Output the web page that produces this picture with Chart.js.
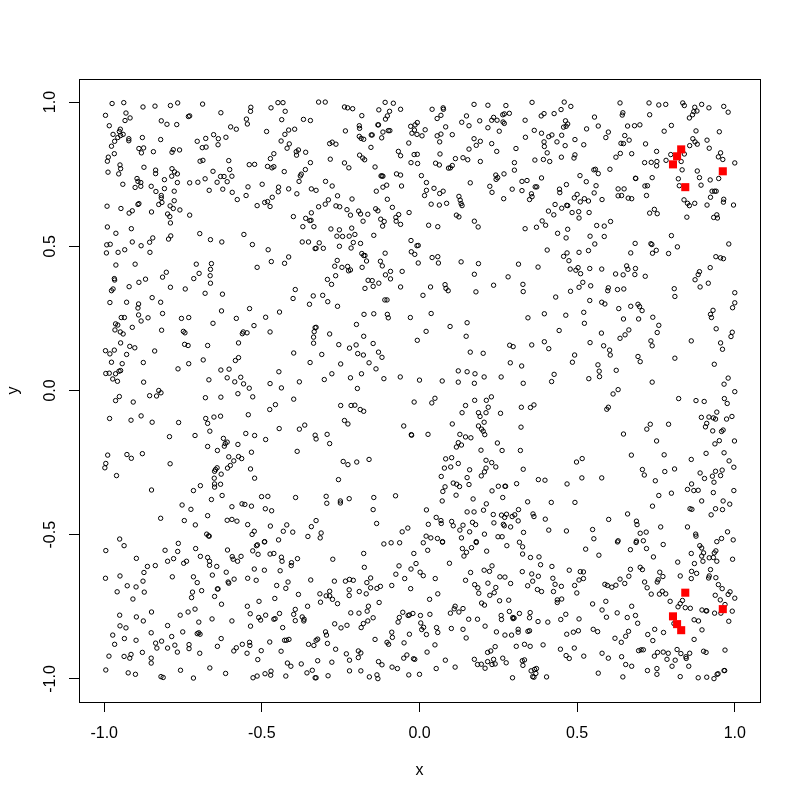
<!DOCTYPE html>
<html>
<head>
<meta charset="utf-8">
<title>Scatter</title>
<script src="https://cdn.jsdelivr.net/npm/chart.js@4"></script>
<style>
  html, body { margin: 0; padding: 0; background: #fff; }
  canvas { display: block; }
</style>
</head>
<body>
<canvas id="chart" width="800" height="800"></canvas>
<script>
const xTicks = [-1, -0.5, 0, 0.5, 1];
const yTicks = [-1, -0.5, 0, 0.5, 1];
const xLabel = 'x';
const yLabel = 'y';

// red squares, [x, y]
const highlighted = [[.830,.836],[.817,.812],[.804,.784],[.962,.760],[.843,.705],
  [.843,-.701],[.962,-.758],[.804,-.783],[.817,-.810],[.830,-.831]];

// open circles, [x, y], one patch at a time
const topLeft = [[-.975,.995],[-.938,.998],[-.877,.983],[-.839,.986],[-.790,.988],[-.767,.997],[-.688,.993],[-.630,.963],[-.535,.982],[-.536,.968],[-.471,.980],[-.449,.998],[-.433,.998],[-.426,.968],[-.996,.954],[-.931,.962],[-.918,.945],[-.934,.936],[-.733,.950],[-.729,.952],[-.819,.935],[-.801,.923],[-.770,.922],[-.549,.941],[-.546,.924],[-.437,.939],[-.368,.940],[-.346,.936],[-.984,.918],
[-.949,.906],[-.952,.898],[-.972,.888],[-.940,.888],[-.948,.884],[-.957,.877],[-.967,.864],[-.922,.873],[-.922,.866],[-.879,.877],[-.821,.870],[-.705,.864],[-.678,.874],[-.653,.887],[-.638,.873],[-.614,.878],[-.599,.914],[-.581,.906],[-.485,.898],[-.427,.888],[-.415,.903],[-.396,.906],[-.439,.865],[-.977,.847],[-.890,.839],[-.875,.841],[-.882,.824],[-.844,.828],[-.781,.835],[-.785,.826],[-.761,.834],[-.689,.842],[-.677,.844],[-.639,.852],[-.413,.855],[-.420,.840],[-.384,.834],[-.391,.828],[-.361,.826],[-.390,.816],[-.968,.821],[-.987,.809],[-.990,.795],[-.696,.795],[-.687,.798],[-.605,.797],[-.462,.821],[-.473,.804],[-.950,.782],[-.948,.769],[-.874,.774],[-.837,.764],[-.837,.752],[-.785,.769],[-.777,.758],[-.768,.751],[-.786,.743],[-.988,.757],[-.954,.751],[-.655,.760],[-.602,.766],[-.595,.743],[-.631,.742],[-.620,.742],[-.540,.783],[-.523,.784],[-.482,.777],[-.468,.772],[-.462,.776],[-.429,.759],[-.362,.766],[-.346,.790],[-.375,.750],[-.378,.744],[-.941,.715],[-.896,.735],[-.893,.725],[-.884,.721],[-.902,.704],[-.884,.708],[-.809,.731],[-.851,.708],[-.809,.700],[-.768,.721],[-.729,.720],[-.703,.722],[-.680,.734],[-.642,.722],[-.610,.724],[-.624,.698],[-.667,.694],[-.778,.691],[-.836,.690],[-.819,.676],[-.819,.668],[-.817,.652],[-.827,.645],[-.778,.658],[-.594,.687],[-.544,.706],[-.499,.715],[-.550,.676],[-.578,.662],[-.447,.705],[-.448,.689],[-.415,.699],[-.382,.725],[-.389,.682],[-.343,.699],[-.467,.670],[-.482,.655],[-.491,.652],[-.474,.638],[-.515,.641],[-.893,.645],[-.890,.648],[-.991,.639],[-.947,.631],[-.921,.615],[-.911,.623],[-.850,.619],[-.791,.640],[-.781,.631],[-.760,.626],[-.799,.612],[-.792,.603],[-.729,.608],[-.790,.581],[-.400,.603],[-.343,.616],[-.361,.597],[-.348,.589],[-.344,.590],[-.370,.568],[-.335,.568],[-.990,.567],[-.914,.561],[-.963,.545],[-.846,.529],[-.789,.536],[-.796,.525],[-.697,.544],[-.663,.523],[-.557,.541]];

const topMiddle = [[-.320,1.000],[-.299,1.000],[-.238,.983],[-.228,.980],[-.212,.977],[-.109,.999],[-.083,.996],[-.129,.973],[-.095,.968],[-.060,.975],[-.183,.953],[-.102,.952],[-.108,.941],[.040,.975],[.075,.980],[.076,.975],[.068,.954],[.056,.943],[.173,.992],[.217,.989],[.274,.988],[.357,.999],[.149,.952],[.134,.930],[.157,.918],[.191,.935],[.235,.947],[.229,.937],[.246,.937],[.264,.956],[.269,.959],[.285,.961],[.265,.931],[.269,.926],[.217,.911],[.335,.937],[.253,.899],[.364,.902],[.336,.878],[-.191,.918],[-.190,.909],[-.132,.921],[-.130,.921],[-.235,.900],[-.116,.896],[-.099,.901],[-.094,.901],[-.028,.916],[-.016,.903],[-.014,.921],[-.007,.929],[.018,.904],[-.024,.892],[-.008,.888],[.008,.883],[.083,.914],[.056,.883],[.068,.889],[.104,.887],[-.191,.881],[-.185,.874],[-.177,.871],[-.153,.886],[-.150,.886],[-.120,.876],[-.034,.858],[.064,.862],[.173,.873],[.193,.864],[.180,.850],[.229,.856],[.157,.837],[.245,.829],[.306,.839],[-.285,.856],[-.277,.861],[-.265,.854],[-.154,.843],[-.067,.829],[-.060,.814],[-.190,.816],[-.180,.806],[-.174,.800],[-.017,.818],[-.007,.819],[.065,.820],[.114,.804],[.138,.807],[.153,.800],[-.283,.802],[-.238,.789],[-.224,.772],[-.141,.775],[-.027,.790],[-.006,.787],[.051,.788],[.063,.782],[.092,.771],[.098,.772],[.104,.780],[.193,.794],[.301,.790],[.366,.799],[.301,.764],[-.122,.744],[-.119,.744],[-.116,.743],[-.073,.751],[-.060,.747],[.006,.745],[.242,.747],[.268,.751],[.248,.738],[.243,.732],[-.298,.725],[-.277,.709],[.022,.721],[.161,.720],[.223,.708],[.325,.725],[.341,.728],[-.328,.694],[-.137,.691],[-.116,.705],[-.104,.712],[-.057,.709],[.022,.694],[.046,.701],[.075,.691],[.064,.683],[.016,.676],[.230,.687],[.294,.698],[.325,.693],[.367,.706],[.355,.682],[.357,.672],[.349,.662],[-.260,.675],[-.214,.664],[-.289,.661],[-.299,.646],[-.320,.637],[-.265,.640],[-.253,.637],[-.102,.663],[-.086,.635],[.125,.673],[.129,.660],[.132,.648],[.135,.641],[.037,.646],[.063,.643],[.086,.649],[.267,.665],[-.230,.627],[-.193,.622],[-.187,.612],[-.219,.608],[-.164,.611],[-.139,.630],[-.132,.623],[-.033,.617],[-.066,.610],[-.075,.600],[-.123,.594],[-.112,.586],[-.074,.587],[-.179,.587],[-.060,.576],[-.117,.570],[.117,.608],[.125,.602],[.174,.587],[.029,.573],[.058,.568],[.186,.567],[.335,.561],[-.281,.560],[-.254,.557],[-.215,.563],[-.262,.535],[-.244,.534],[-.223,.535],[-.205,.541],[-.145,.538],[-.027,.520]];

const topRight = [[.459,1.000],[.480,.985],[.449,.974],[.427,.960],[.395,.960],[.386,.952],[.636,.997],[.728,.997],[.759,.990],[.781,.992],[.835,.997],[.840,.988],[.873,.982],[.870,.967],[.880,.969],[.895,.992],[.918,.980],[.965,.985],[.979,.965],[.866,.956],[.856,.945],[.645,.963],[.643,.955],[.730,.956],[.555,.948],[.463,.935],[.470,.924],[.465,.916],[.457,.913],[.567,.917],[.530,.907],[.660,.917],[.682,.918],[.699,.921],[.799,.919],[.776,.899],[.599,.896],[.591,.877],[.387,.892],[.420,.886],[.410,.880],[.451,.885],[.395,.862],[.396,.846],[.436,.862],[.493,.870],[.462,.849],[.521,.852],[.651,.884],[.665,.868],[.639,.857],[.647,.856],[.717,.855],[.877,.900],[.951,.897],[.867,.873],[.874,.862],[.881,.854],[.857,.849],[.912,.868],[.919,.840],[.752,.829],[.840,.820],[.797,.818],[.405,.824],[.450,.809],[.493,.817],[.490,.806],[.637,.822],[.623,.809],[.673,.821],[.955,.824],[.948,.810],[.962,.801],[1.000,.789],[.393,.801],[.413,.794],[.714,.790],[.735,.791],[.753,.794],[.752,.779],[.782,.798],[.830,.794],[.833,.765],[.881,.761],[.604,.767],[.553,.765],[.558,.767],[.567,.752],[.509,.745],[.387,.737],[.529,.724],[.466,.714],[.560,.710],[.372,.706],[.444,.698],[.445,.686],[.685,.736],[.686,.735],[.738,.738],[.715,.709],[.723,.710],[.821,.734],[.824,.710],[.888,.738],[.922,.730],[.949,.735],[.893,.712],[.630,.699],[.649,.699],[.554,.685],[.500,.680],[.491,.668],[.523,.665],[.510,.654],[.536,.657],[.579,.662],[.630,.675],[.641,.676],[.662,.667],[.673,.665],[.720,.676],[.928,.691],[.936,.691],[.941,.691],[.923,.670],[.965,.663],[.964,.653],[.996,.643],[.839,.661],[.850,.649],[.856,.641],[.873,.649],[.912,.643],[.430,.645],[.451,.632],[.467,.642],[.470,.641],[.409,.622],[.426,.609],[.484,.617],[.505,.620],[.538,.617],[.506,.598],[.745,.628],[.730,.615],[.754,.613],[.848,.601],[.933,.600],[.943,.609],[.945,.598],[.389,.588],[.606,.586],[.400,.573],[.371,.566],[.562,.572],[.586,.570],[.470,.559],[.438,.545],[.541,.535],[.586,.534],[.465,.529],[.799,.537]];

const upperLeft = [[-.992,.505],[-.981,.507],[-.883,.502],[-.856,.514],[-.911,.515],[-.935,.488],[-.956,.479],[-.993,.477],[-.855,.479],[-.530,.506],[-.480,.488],[-.372,.515],[-.352,.515],[-.331,.492],[-.627,.515],[-.415,.463],[-.470,.447],[-.428,.441],[-.515,.427],[-.963,.435],[-.902,.438],[-.708,.438],[-.660,.440],[-.663,.420],[-.699,.406],[-.664,.398],[-.803,.410],[-.815,.393],[-.716,.388],[-.968,.388],[-.967,.383],[-.869,.386],[-.890,.375],[-.663,.372],[-.921,.360],[-.790,.358],[-.743,.352],[-.972,.352],[-.977,.346],[-.680,.337],[-.625,.334],[-.394,.350],[-.337,.328],[-.401,.319],[-.349,.299],[-.848,.322],[-.982,.305],[-.929,.306],[-.891,.300],[-.821,.306],[-.893,.286],[-.628,.276],[-.539,.284],[-.444,.272],[-.891,.262],[-.815,.267],[-.946,.253],[-.936,.253],[-.861,.252],[-.883,.241],[-.755,.250],[-.732,.253],[-.581,.250],[-.488,.254],[-.655,.233],[-.525,.225],[-.964,.231],[-.957,.227],[-.911,.219],[-.966,.210],[-.949,.203],[-.940,.196],[-.818,.209],[-.749,.205],[-.744,.200],[-.474,.203],[-.559,.203],[-.562,.197],[-.547,.200],[-.331,.218],[-.334,.204],[-.336,.185],[-.336,.164],[-.948,.165],[-.574,.165],[-.745,.160],[-.734,.156],[-.672,.156],[-.919,.153],[-.903,.148],[-.840,.137],[-.996,.138],[-.982,.127],[-.968,.140],[-.929,.125],[-.399,.130],[-.574,.114],[-.584,.104],[-.686,.106],[-.977,.098],[-.943,.093],[-.876,.097],[-.732,.093],[-.347,.097],[-.766,.075],[-.630,.071],[-.604,.074],[-.995,.059],[-.984,.060],[-.964,.058],[-.953,.067],[-.948,.069],[-.446,.065],[-.973,.040],[-.958,.032],[-.875,.029],[-.668,.037],[-.610,.044],[-.567,.046],[-.586,.030],[-.558,.023],[-.540,.008],[-.474,.024],[-.438,.009],[-.381,.030],[-.827,.000]];

const upperMiddle = [[-.328,.493],[-.305,.493],[-.318,.512],[-.254,.500],[-.217,.494],[-.210,.513],[-.187,.510],[-.183,.475],[-.177,.468],[-.173,.468],[-.109,.476],[-.008,.502],[-.004,.503],[-.026,.481],[-.015,.472],[.040,.461],[.058,.464],[-.261,.451],[-.168,.449],[-.124,.448],[-.004,.442],[.060,.442],[.132,.446],[.187,.440],[.314,.438],[-.269,.431],[-.246,.427],[-.228,.430],[-.225,.415],[-.219,.418],[-.182,.427],[-.118,.432],[-.092,.413],[-.055,.413],[-.266,.398],[-.108,.401],[.174,.403],[.281,.394],[-.292,.385],[-.279,.368],[-.163,.382],[-.150,.381],[-.092,.387],[-.129,.372],[-.147,.361],[-.173,.354],[-.060,.359],[.035,.359],[.081,.367],[.084,.354],[.091,.346],[.235,.365],[.328,.368],[.329,.343],[.179,.342],[.011,.330],[-.307,.330],[-.291,.308],[-.110,.314],[-.103,.314],[-.260,.292],[-.176,.264],[-.145,.266],[-.102,.264],[-.099,.252],[-.029,.253],[.037,.267],[.344,.252],[.151,.235],[-.200,.229],[.097,.222],[-.328,.219],[.021,.205],[-.285,.196],[-.177,.188],[.148,.188],[-.007,.174],[-.256,.159],[-.201,.158],[-.147,.163],[-.222,.147],[.286,.157],[.297,.152],[.356,.158],[-.310,.125],[-.196,.128],[-.178,.123],[-.130,.133],[-.119,.115],[.161,.133],[.202,.129],[-.250,.092],[-.160,.096],[.288,.096],[.324,.085],[-.138,.075],[.123,.068],[.151,.065],[.176,.058],[-.278,.058],[-.184,.058],[-.302,.038],[-.219,.044],[-.113,.041],[-.061,.047],[-.000,.036],[.072,.033],[.205,.047],[.259,.047],[.123,.029],[.174,.025],[.329,.025],[-.197,.007]];

const upperRight = [[.556,.508],[.684,.510],[.734,.509],[.737,.506],[.818,.498],[.981,.508],[.405,.487],[.468,.477],[.457,.465],[.506,.479],[.536,.485],[.474,.450],[.670,.477],[.739,.476],[.751,.486],[.790,.475],[.940,.464],[.955,.460],[.964,.457],[.376,.428],[.478,.421],[.496,.417],[.503,.426],[.511,.405],[.540,.423],[.578,.421],[.657,.432],[.661,.420],[.685,.423],[.622,.404],[.646,.401],[.683,.402],[.716,.396],[.922,.426],[.888,.412],[.884,.402],[.874,.384],[.916,.372],[.890,.359],[.518,.375],[.506,.358],[.543,.363],[.599,.356],[.597,.346],[.628,.350],[.648,.352],[.808,.353],[.810,.326],[.479,.344],[.432,.324],[1.000,.339],[1.000,.304],[.993,.287],[.540,.312],[.578,.306],[.588,.300],[.632,.284],[.670,.292],[.693,.299],[.698,.291],[.706,.277],[.931,.278],[.923,.264],[.926,.253],[.396,.266],[.464,.261],[.521,.271],[.523,.233],[.647,.248],[.695,.248],[.740,.254],[.759,.226],[.443,.208],[.664,.210],[.652,.193],[.636,.181],[.577,.199],[.754,.201],[.941,.214],[.992,.202],[.988,.187],[.734,.172],[.738,.155],[.862,.172],[.955,.165],[.961,.143],[.396,.169],[.410,.145],[.541,.166],[.584,.155],[.603,.140],[.605,.123],[.492,.123],[.485,.098],[.693,.118],[.700,.100],[.810,.112],[.935,.091],[.566,.089],[.570,.067],[.571,.048],[.624,.070],[.427,.056],[.419,.031],[.537,.041],[.979,.043],[.738,.029],[.966,.022],[.630,.003],[1.000,-.004]];

const lowerLeft = [[-.952,-.021],[-.964,-.035],[-.908,-.040],[-.856,-.018],[-.834,-.019],[-.820,-.008],[-.679,-.025],[-.630,-.023],[-.576,-.011],[-.529,-.022],[-.399,-.030],[-.457,-.049],[-.475,-.066],[-.983,-.097],[-.915,-.103],[-.883,-.088],[-.848,-.110],[-.764,-.111],[-.678,-.097],[-.672,-.114],[-.652,-.092],[-.631,-.089],[-.543,-.084],[-.445,-.132],[-.381,-.134],[-.364,-.120],[-.331,-.155],[-.328,-.168],[-.665,-.141],[-.793,-.160],[-.712,-.156],[-.551,-.149],[-.523,-.156],[-.488,-.170],[-.622,-.166],[-.610,-.179],[-.616,-.184],[-.619,-.193],[-.576,-.187],[-.672,-.194],[-.641,-.208],[-.533,-.214],[-.388,-.211],[-.989,-.224],[-.928,-.222],[-.914,-.235],[-.879,-.219],[-.605,-.230],[-.574,-.229],[-.564,-.236],[-.589,-.244],[-.600,-.260],[-.609,-.269],[-.995,-.253],[-.998,-.268],[-.791,-.254],[-.642,-.268],[-.647,-.274],[-.650,-.280],[-.536,-.272],[-.629,-.290],[-.961,-.295],[-.651,-.304],[-.523,-.304],[-.650,-.324],[-.631,-.325],[-.650,-.335],[-.695,-.330],[-.717,-.347],[-.850,-.345],[-.626,-.364],[-.501,-.368],[-.481,-.367],[-.393,-.371],[-.660,-.378],[-.753,-.397],[-.563,-.393],[-.554,-.395],[-.533,-.401],[-.595,-.403],[-.725,-.412],[-.489,-.410],[-.469,-.417],[-.672,-.434],[-.821,-.443],[-.746,-.451],[-.610,-.450],[-.595,-.447],[-.579,-.453],[-.328,-.451],[-.711,-.466],[-.545,-.465],[-.473,-.470],[-.421,-.466],[-.343,-.472],[-.432,-.488],[-.402,-.491],[-.524,-.488],[-.531,-.499],[-.675,-.498],[-.669,-.504],[-.667,-.505],[-.354,-.506],[-.951,-.515],[-.447,-.518],[-.491,-.524]];

const lowerMiddle = [[-.250,-.052],[-.217,-.052],[-.205,-.051],[-.188,-.066],[-.177,-.072],[-.017,-.040],[.039,-.043],[.049,-.027],[.175,-.034],[.212,-.034],[.228,-.022],[.146,-.052],[.218,-.058],[.323,-.058],[.352,-.059],[.363,-.050],[.135,-.077],[.187,-.077],[.192,-.090],[.211,-.077],[.257,-.079],[-.238,-.104],[-.227,-.116],[-.050,-.123],[.104,-.116],[.205,-.110],[.187,-.123],[.197,-.134],[.202,-.141],[.207,-.153],[.322,-.127],[-.293,-.152],[-.026,-.153],[-.025,-.155],[.027,-.152],[.128,-.152],[.146,-.161],[.163,-.164],[-.285,-.184],[.247,-.182],[.123,-.181],[.133,-.189],[.117,-.196],[.195,-.207],[.262,-.208],[.320,-.208],[-.242,-.246],[-.227,-.257],[-.199,-.248],[-.160,-.239],[.083,-.237],[.102,-.233],[.123,-.253],[.099,-.265],[.079,-.269],[.211,-.242],[.229,-.250],[.242,-.265],[.211,-.269],[.206,-.282],[.196,-.296],[.159,-.275],[.329,-.273],[.069,-.298],[.151,-.302],[-.257,-.309],[.107,-.321],[.118,-.325],[.127,-.333],[.157,-.326],[.081,-.334],[.074,-.350],[.250,-.332],[.271,-.332],[.273,-.332],[.230,-.348],[.308,-.323],[.116,-.363],[.264,-.371],[-.296,-.367],[-.145,-.371],[-.076,-.365],[.170,-.376],[-.223,-.375],[-.251,-.383],[-.251,-.390],[-.294,-.391],[.072,-.383],[.212,-.393],[.343,-.386],[-.147,-.413],[.022,-.414],[.203,-.415],[.151,-.421],[.173,-.421],[.314,-.413],[.234,-.430],[.260,-.432],[.276,-.429],[.270,-.440],[.294,-.437],[.302,-.431],[.360,-.428],[.363,-.437],[.053,-.440],[.068,-.451],[.069,-.461],[.102,-.454],[.107,-.469],[.138,-.467],[.028,-.464],[-.136,-.461],[.168,-.457],[.178,-.465],[.236,-.459],[.266,-.464],[.269,-.469],[.289,-.473],[.313,-.452],[-.037,-.477],[-.055,-.490],[.128,-.484],[.159,-.490],[.206,-.498],[.330,-.492],[-.312,-.494],[-.315,-.511],[.021,-.505],[.036,-.511],[.057,-.513],[.133,-.511],[.249,-.507],[.262,-.507],[.073,-.524],[.180,-.524]];

const lowerRight = [[.614,-.012],[.822,-.028],[.877,-.035],[.903,-.038],[.967,-.028],[.976,-.045],[.599,-.058],[.594,-.065],[.943,-.075],[.894,-.093],[.918,-.092],[.932,-.095],[.939,-.099],[.974,-.099],[.991,-.090],[.911,-.114],[.732,-.117],[.790,-.117],[.721,-.134],[.907,-.126],[.930,-.140],[.958,-.142],[.963,-.137],[.647,-.151],[.752,-.175],[.951,-.174],[.999,-.175],[.937,-.185],[.672,-.224],[.776,-.223],[.909,-.218],[.966,-.216],[.516,-.236],[.498,-.248],[.862,-.239],[.982,-.244],[.997,-.266],[.707,-.274],[.778,-.281],[.809,-.272],[.939,-.280],[.960,-.276],[.890,-.286],[.713,-.293],[.929,-.297],[.955,-.295],[.904,-.305],[.377,-.309],[.398,-.311],[.515,-.303],[.578,-.303],[.468,-.324],[.748,-.313],[.934,-.318],[.863,-.324],[.850,-.343],[.870,-.347],[.884,-.346],[.932,-.354],[.997,-.347],[.799,-.356],[.759,-.364],[.895,-.383],[.963,-.383],[.418,-.388],[.493,-.388],[.984,-.394],[.739,-.401],[.858,-.410],[.864,-.412],[.939,-.410],[.961,-.413],[.925,-.431],[.660,-.428],[.600,-.447],[.399,-.446],[.688,-.453],[.690,-.465],[.765,-.473],[.850,-.473],[.410,-.484],[.466,-.487],[.549,-.482],[.700,-.495],[.719,-.491],[.876,-.498],[.877,-.505],[.977,-.490],[.553,-.514],[.958,-.513],[.995,-.518],[.630,-.521],[.688,-.522],[.710,-.521],[.943,-.524]];

const bottomLeft = [[-.765,-.530],[-.937,-.538],[-.995,-.555],[-.807,-.554],[-.767,-.558],[-.710,-.548],[-.609,-.553],[-.517,-.538],[-.514,-.535],[-.492,-.525],[-.529,-.556],[-.512,-.568],[-.474,-.567],[-.462,-.565],[-.898,-.582],[-.780,-.583],[-.799,-.592],[-.739,-.592],[-.748,-.599],[-.695,-.575],[-.672,-.579],[-.666,-.592],[-.666,-.606],[-.643,-.610],[-.594,-.576],[-.591,-.585],[-.577,-.592],[-.566,-.575],[-.438,-.578],[-.436,-.592],[-.387,-.583],[-.406,-.597],[-.407,-.607],[-.863,-.610],[-.838,-.607],[-.524,-.619],[-.492,-.623],[-.442,-.625],[-.874,-.631],[-.613,-.630],[-.996,-.651],[-.950,-.643],[-.784,-.646],[-.717,-.646],[-.657,-.640],[-.588,-.654],[-.545,-.651],[-.518,-.658],[-.345,-.657],[-.877,-.661],[-.705,-.666],[-.607,-.664],[-.605,-.668],[-.417,-.664],[-.927,-.677],[-.899,-.681],[-.453,-.676],[-.424,-.686],[-.641,-.688],[-.639,-.688],[-.691,-.694],[-.959,-.698],[-.873,-.699],[-.720,-.699],[-.384,-.707],[-.650,-.714],[-.723,-.718],[-.909,-.723],[-.459,-.721],[-.509,-.731],[-.628,-.741],[-.546,-.748],[-.355,-.748],[-.712,-.758],[-.394,-.759],[-.850,-.768],[-.734,-.768],[-.759,-.779],[-.537,-.774],[-.444,-.773],[-.399,-.776],[-.488,-.779],[-.951,-.779],[-.898,-.785],[-.510,-.787],[-.504,-.796],[-.658,-.792],[-.462,-.793],[-.458,-.791],[-.372,-.785],[-.366,-.793],[-.367,-.799],[-.394,-.798],[-.876,-.799],[-.700,-.803],[-.595,-.799],[-.799,-.815],[-.950,-.816],[-.931,-.823],[-.536,-.817],[-.434,-.822],[-.851,-.840],[-.751,-.837],[-.705,-.843],[-.700,-.840],[-.696,-.845],[-.973,-.848],[-.786,-.853],[-.936,-.860],[-.899,-.866],[-.629,-.860],[-.428,-.866],[-.422,-.866],[-.414,-.863],[-.818,-.869],[-.837,-.876],[-.539,-.873],[-.538,-.884],[-.475,-.872],[-.562,-.880],[-.967,-.880],[-.776,-.883],[-.731,-.881],[-.352,-.880],[-.335,-.884],[-.328,-.866],[-.833,-.893],[-.799,-.893],[-.731,-.895],[-.641,-.887],[-.581,-.892],[-.589,-.903],[-.502,-.902],[-.439,-.904],[-.879,-.908],[-.768,-.907],[-.697,-.911],[-.547,-.911],[-.915,-.915],[-.985,-.921],[-.937,-.922],[-.919,-.928],[-.851,-.928],[-.513,-.933],[-.851,-.945],[-.419,-.945],[-.375,-.948],[-.408,-.956],[-.995,-.969],[-.758,-.970],[-.665,-.962],[-.340,-.970],[-.357,-.979],[-.471,-.973],[-.924,-.979],[-.901,-.984],[-.615,-.981],[-.490,-.982],[-.472,-.987],[-.820,-.992],[-.813,-.995],[-.717,-.997],[-.528,-.996],[-.515,-.990],[-.424,-.990],[-.331,-.996]];

const bottomMiddle = [[-.113,-.532],[-.090,-.528],[-.063,-.528],[.012,-.528],[.073,-.526],[.180,-.527],[.317,-.526],[.026,-.554],[.136,-.548],[.149,-.561],[.141,-.574],[.165,-.545],[.213,-.557],[.277,-.538],[.327,-.542],[.327,-.567],[.352,-.579],[-.177,-.565],[-.018,-.565],[-.275,-.585],[.095,-.599],[-.175,-.613],[-.065,-.608],[-.011,-.600],[-.027,-.619],[.002,-.630],[.012,-.642],[-.075,-.637],[.230,-.608],[.205,-.623],[.222,-.627],[.162,-.631],[.326,-.628],[.356,-.636],[-.047,-.652],[.050,-.652],[.255,-.646],[.271,-.647],[.146,-.658],[.359,-.661],[-.270,-.661],[-.235,-.661],[-.222,-.655],[-.210,-.658],[-.155,-.650],[-.167,-.666],[-.088,-.676],[.217,-.668],[.289,-.669],[.175,-.673],[.185,-.684],[.242,-.683],[.343,-.677],[-.155,-.684],[-.135,-.686],[-.124,-.679],[-.028,-.687],[-.223,-.691],[-.191,-.697],[-.285,-.696],[-.316,-.705],[-.296,-.712],[-.285,-.712],[-.223,-.711],[-.169,-.705],[-.276,-.724],[.188,-.703],[.237,-.701],[.223,-.710],[.058,-.705],[.032,-.724],[.254,-.729],[.283,-.727],[-.314,-.734],[-.260,-.739],[-.128,-.735],[.197,-.737],[.206,-.744],[-.162,-.748],[.113,-.748],[.110,-.757],[.138,-.756],[.125,-.768],[.098,-.772],[-.166,-.765],[-.218,-.771],[-.192,-.772],[-.053,-.769],[-.021,-.773],[-.032,-.778],[-.036,-.780],[.003,-.780],[.033,-.776],[.285,-.766],[.317,-.773],[.351,-.770],[.259,-.780],[.260,-.794],[.349,-.788],[.296,-.787],[.300,-.789],[.297,-.791],[-.147,-.788],[-.064,-.787],[-.068,-.803],[.156,-.793],[.184,-.793],[-.269,-.809],[-.249,-.823],[-.230,-.814],[-.164,-.799],[-.178,-.808],[-.185,-.822],[.004,-.806],[.013,-.821],[.007,-.829],[.054,-.822],[.058,-.839],[.208,-.817],[.101,-.825],[.138,-.828],[.313,-.828],[.313,-.838],[.344,-.835],[.349,-.833],[.244,-.837],[.271,-.848],[.292,-.848],[-.298,-.837],[-.295,-.848],[-.088,-.838],[-.032,-.845],[.022,-.846],[-.086,-.856],[.148,-.858],[-.323,-.862],[-.141,-.863],[-.292,-.877],[-.103,-.873],[-.098,-.880],[-.049,-.875],[.049,-.882],[.307,-.887],[.333,-.880],[.351,-.887],[.240,-.888],[-.266,-.897],[-.194,-.903],[-.186,-.910],[.024,-.907],[.226,-.903],[.216,-.908],[-.232,-.913],[-.040,-.917],[-.194,-.926],[-.050,-.928],[-.019,-.930],[-.015,-.932],[.264,-.928],[.235,-.932],[.174,-.932],[.333,-.934],[.326,-.937],[-.222,-.935],[.082,-.935],[-.323,-.937],[-.278,-.942],[-.130,-.940],[-.119,-.951],[.216,-.940],[.184,-.950],[.196,-.949],[.230,-.950],[.240,-.948],[.275,-.944],[.328,-.953],[.113,-.959],[-.087,-.959],[-.070,-.964],[.053,-.964],[.208,-.963],[-.222,-.972],[-.186,-.972],[.354,-.972],[.365,-.967],[-.135,-.986],[-.034,-.986],[-.000,-.984],[-.290,-.989],[-.159,-.993],[-.132,-.999],[-.328,-.996],[.295,-.996],[.359,-.992],[.363,-.994]];

const bottomRight = [[.527,-.550],[.628,-.525],[.687,-.527],[.720,-.548],[.773,-.534],[.669,-.552],[.889,-.538],[.895,-.546],[.901,-.563],[.895,-.574],[.940,-.556],[.935,-.563],[.862,-.565],[.379,-.577],[.569,-.571],[.742,-.577],[.919,-.580],[.932,-.579],[.993,-.585],[.943,-.592],[.899,-.592],[.872,-.600],[.819,-.595],[.384,-.604],[.420,-.610],[.475,-.623],[.669,-.620],[.700,-.613],[.707,-.621],[.923,-.621],[.510,-.628],[.520,-.629],[.863,-.627],[.879,-.634],[.762,-.630],[.377,-.644],[.423,-.651],[.520,-.652],[.506,-.657],[.664,-.644],[.636,-.654],[.772,-.645],[.757,-.656],[.754,-.664],[.827,-.643],[.862,-.652],[.917,-.650],[.919,-.643],[.940,-.649],[.714,-.664],[.651,-.669],[.588,-.672],[.596,-.676],[.610,-.682],[.623,-.675],[.430,-.672],[.450,-.679],[.492,-.676],[.948,-.673],[.960,-.687],[.722,-.684],[.374,-.690],[.387,-.697],[.425,-.697],[.499,-.702],[.735,-.706],[.761,-.706],[.770,-.696],[.781,-.705],[.938,-.710],[.985,-.698],[.979,-.707],[1.000,-.720],[.954,-.726],[.437,-.726],[.451,-.723],[.437,-.735],[.591,-.731],[.549,-.740],[.795,-.731],[.834,-.728],[.827,-.739],[.820,-.750],[.843,-.753],[.859,-.755],[.673,-.748],[.969,-.742],[.896,-.761],[.909,-.764],[.911,-.764],[.936,-.772],[.956,-.772],[.992,-.765],[.579,-.761],[.464,-.776],[.627,-.771],[.685,-.780],[.593,-.786],[.659,-.787],[.506,-.792],[.448,-.794],[.871,-.795],[.885,-.799],[.981,-.800],[.376,-.801],[.407,-.803],[.692,-.807],[.807,-.808],[.551,-.828],[.565,-.836],[.504,-.833],[.488,-.838],[.467,-.845],[.663,-.835],[.654,-.852],[.620,-.859],[.640,-.873],[.746,-.828],[.774,-.839],[.724,-.846],[.740,-.867],[.896,-.830],[.871,-.863],[.392,-.882],[.491,-.893],[.447,-.897],[.465,-.919],[.475,-.929],[.579,-.911],[.521,-.921],[.599,-.928],[.641,-.923],[.695,-.902],[.703,-.899],[.710,-.899],[.755,-.908],[.773,-.907],[.789,-.911],[.745,-.921],[.817,-.898],[.829,-.912],[.857,-.911],[.901,-.904],[.909,-.908],[.969,-.900],[.845,-.923],[.846,-.929],[.785,-.932],[.811,-.935],[.654,-.950],[.673,-.956],[.801,-.956],[.854,-.956],[.723,-.971],[.753,-.964],[.753,-.984],[.567,-.980],[.371,-.964],[.369,-.981],[.403,-.993],[.645,-.993],[.827,-.992],[.884,-.996],[.911,-.994],[.934,-.999],[.947,-.982],[.944,-.984],[.966,-.971],[.968,-.971]];

const circles = [].concat(topLeft, topMiddle, topRight, upperLeft, upperMiddle, upperRight,
  lowerLeft, lowerMiddle, lowerRight, bottomLeft, bottomMiddle, bottomRight);

const toPoints = pairs => pairs.map(p => ({ x: p[0], y: p[1] }));
const fontFamily = '"Liberation Sans", Arial, sans-serif';

// R style box round the plot and rotated y tick labels
const frame = {
  id: 'frame',
  afterDraw(chart) {
    const { ctx, chartArea, scales } = chart;
    ctx.save();
    ctx.strokeStyle = '#000';
    ctx.lineWidth = 1;
    ctx.strokeRect(chartArea.left + 0.5, chartArea.top + 0.5, chartArea.width, chartArea.height);
    ctx.fillStyle = '#000';
    ctx.font = '16px ' + fontFamily;
    ctx.textAlign = 'center';
    ctx.textBaseline = 'alphabetic';
    yTicks.forEach(v => {
      ctx.save();
      ctx.translate(55, scales.y.getPixelForValue(v));
      ctx.rotate(-Math.PI / 2);
      ctx.fillText(v.toFixed(1), 0, 0);
      ctx.restore();
    });
    ctx.restore();
  }
};

new Chart(document.getElementById('chart'), {
  type: 'scatter',
  data: {
    datasets: [
      {
        data: toPoints(circles),
        pointStyle: 'circle',
        pointRadius: 2.2,
        pointBorderWidth: 1,
        pointBorderColor: '#000',
        pointBackgroundColor: 'rgba(0,0,0,0)',
        order: 2
      },
      {
        data: toPoints(highlighted),
        pointStyle: 'rect',
        pointRadius: 5.7,
        pointBorderWidth: 0,
        pointBackgroundColor: '#ff0000',
        order: 1
      }
    ]
  },
  plugins: [frame],
  options: {
    responsive: false,
    animation: false,
    layout: { padding: { top: 79, right: 40 } },
    plugins: { legend: { display: false }, tooltip: { enabled: false } },
    scales: {
      x: {
        type: 'linear',
        min: -1.08,
        max: 1.08,
        afterBuildTicks: scale => { scale.ticks = xTicks.map(v => ({ value: v })); },
        afterFit: scale => { scale.height = 98; },
        border: { display: false },
        grid: { drawOnChartArea: false, drawTicks: true, tickLength: 10, color: '#000' },
        ticks: {
          autoSkip: false,
          maxRotation: 0,
          padding: 12,
          color: '#000',
          font: { family: fontFamily, size: 16 },
          callback: v => v.toFixed(1)
        },
        title: {
          display: true,
          text: xLabel,
          color: '#000',
          font: { family: fontFamily, size: 16 },
          padding: { top: 0, bottom: 20 }
        }
      },
      y: {
        type: 'linear',
        min: -1.08,
        max: 1.08,
        afterBuildTicks: scale => { scale.ticks = yTicks.map(v => ({ value: v })); },
        afterFit: scale => { scale.width = 79; },
        border: { display: false },
        grid: { drawOnChartArea: false, drawTicks: true, tickLength: 10, color: '#000' },
        ticks: { display: false },
        title: {
          display: true,
          text: yLabel,
          color: '#000',
          font: { family: fontFamily, size: 16 },
          padding: { top: 4, bottom: 0 }
        }
      }
    }
  }
});
</script>
</body>
</html>
